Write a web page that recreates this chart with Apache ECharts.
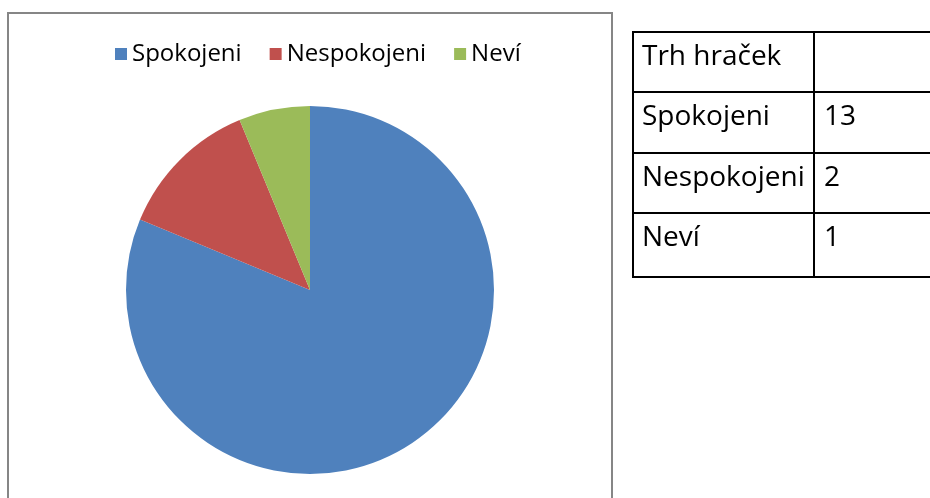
<!DOCTYPE html>
<html>
<head>
<meta charset="utf-8">
<script src="https://cdn.jsdelivr.net/npm/echarts@6/dist/echarts.min.js"></script>
<style>
  html, body { margin: 0; padding: 0; background: #fff; }
  #chart { width: 930px; height: 498px; }
</style>
</head>
<body>
<div id="chart"></div>
<script>
// data
var tableTitle = 'Trh hraček';
var categories = ['Spokojeni', 'Nespokojeni', 'Neví'];
var values = [13, 2, 1];
var colors = ['#4F81BD', '#C0504D', '#9BBB59'];

var chart = echarts.init(document.getElementById('chart'));
var fontFamily = '"Open Sans", "Noto Sans", sans-serif';

// table next to the chart (rows built from the arrays)
var tbl = { left: 633, top: 32, col: 814, right: 940, rows: [32, 92, 153, 213, 277] };
var graphics = [];
// chart area frame
graphics.push({
    type: 'rect',
    shape: { x: 8, y: 13, width: 604, height: 520 },
    style: { fill: 'none', stroke: '#868686', lineWidth: 2 },
    silent: true
});
// table lines
tbl.rows.forEach(function (y) {
    graphics.push({ type: 'line', shape: { x1: tbl.left, y1: y, x2: tbl.right, y2: y }, style: { stroke: '#000', lineWidth: 2 } });
});
graphics.push({ type: 'line', shape: { x1: tbl.left, y1: tbl.rows[0] - 1, x2: tbl.left, y2: tbl.rows[4] + 1 }, style: { stroke: '#000', lineWidth: 2 } });
graphics.push({ type: 'line', shape: { x1: tbl.col, y1: tbl.rows[0] - 1, x2: tbl.col, y2: tbl.rows[4] + 1 }, style: { stroke: '#000', lineWidth: 2 } });
// table text
var rowLabels = [tableTitle].concat(categories);
var rowValues = [''].concat(values.map(String));
rowLabels.forEach(function (txt, i) {
    var y = tbl.rows[i] + 25;
    graphics.push({ type: 'text', x: tbl.left + 9, y: y, style: { text: txt, fill: '#000', font: '28px ' + fontFamily, verticalAlign: 'middle' } });
    graphics.push({ type: 'text', x: tbl.col + 10, y: y, style: { text: rowValues[i], fill: '#000', font: '28px ' + fontFamily, verticalAlign: 'middle' } });
});

var option = {
    animation: false,
    color: colors,
    legend: {
        left: 110,
        top: 37,
        itemWidth: 12,
        itemHeight: 12,
        itemGap: 28,
        icon: 'rect',
        textStyle: { fontSize: 24, fontFamily: fontFamily, color: '#000' },
        data: categories
    },
    graphic: graphics,
    series: [{
        type: 'pie',
        center: [310, 290],
        radius: 184,
        startAngle: 90,
        clockwise: true,
        label: { show: false },
        labelLine: { show: false },
        itemStyle: { borderWidth: 0 },
        emphasis: { disabled: true },
        data: categories.map(function (c, i) {
            return { name: c, value: values[i] };
        })
    }]
};
chart.setOption(option);
window.onresize = chart.resize;
</script>
</body>
</html>
